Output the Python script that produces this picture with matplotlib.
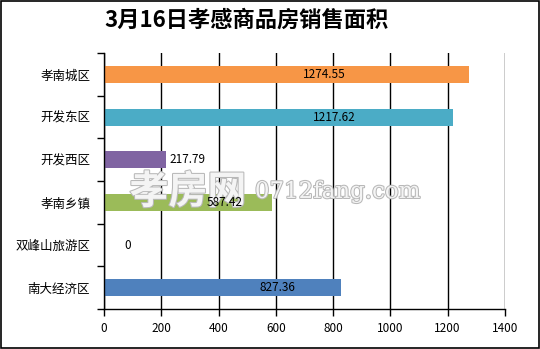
"""孝感商品房销售面积 - 3月16日."""
import matplotlib
matplotlib.use("Agg")
from matplotlib import pyplot as plt
from matplotlib import patheffects as pe
from matplotlib.patches import Rectangle

plt.rcParams["font.family"] = ["Noto Sans CJK SC", "DejaVu Sans"]

# data, bottom to top
areas = ["南大经济区", "双峰山旅游区", "孝南乡镇", "开发西区", "开发东区", "孝南城区"]
values = [827.36, 0, 587.42, 217.79, 1217.62, 1274.55]
colors = ["#4F81BD", "#C0504D", "#9BBB59", "#8064A2", "#4BACC6", "#F79646"]
# where each value label sits (data units) and how it is anchored
label_x = [604, 84, 423, 228, 805, 768]
label_ha = ["center", "center", "center", "left", "center", "center"]
x_ticks = list(range(0, 1401, 200))

fig = plt.figure(figsize=(5.4, 3.49), dpi=100)
ax = fig.add_axes([0.1926, 0.1146, 0.7424, 0.7334])

ax.barh(range(len(areas)), values, height=0.4, color=colors, zorder=2)

for i, (v, lx, ha) in enumerate(zip(values, label_x, label_ha)):
    ax.text(lx, i, f"{v:g}" if v == 0 else f"{v:.2f}", ha=ha, va="center",
            fontsize=8.5, color="black", zorder=4)

ax.set_xlim(0, 1400)
ax.set_ylim(-0.5, len(areas) - 0.5)
ax.set_xticks(x_ticks)
ax.set_xticklabels([str(t) for t in x_ticks], fontsize=8.5)
ax.set_yticks(range(len(areas)))
ax.set_yticklabels(areas, fontsize=9)
ax.set_yticks([i - 0.5 for i in range(len(areas) + 1)], minor=True)
ax.tick_params(axis="y", which="major", length=0, pad=10)
ax.tick_params(axis="y", which="minor", length=5, width=1, direction="out")
ax.tick_params(axis="x", length=5, width=1, direction="out", pad=4)
ax.grid(axis="x", color="black", linewidth=1, zorder=1)
ax.set_axisbelow(True)
for side in ("top", "right"):
    ax.spines[side].set_visible(False)
for side in ("left", "bottom"):
    ax.spines[side].set_linewidth(1)

fig.text(0.456, 0.943, "3月16日孝感商品房销售面积", ha="center", va="center",
         fontsize=16, fontweight="bold")

# watermark, under the value labels
wm = [pe.withStroke(linewidth=1.5, foreground="#b8b8b8")]
ax.text(0.24, 0.45, "孝房网", fontsize=28, fontweight="bold", color="#f4f4f4",
        transform=fig.transFigure, ha="left", va="center", path_effects=wm,
        zorder=3, clip_on=False)
ax.text(0.472, 0.45, "0712fang.com", fontsize=16.5, color="#f4f4f4",
        family=["DejaVu Serif"], transform=fig.transFigure, ha="left",
        va="center", path_effects=wm, zorder=3, clip_on=False)

fig.patches.append(Rectangle((0.001, 0.002), 0.997, 0.995, transform=fig.transFigure,
                             fill=False, edgecolor="black", linewidth=1.2))

fig.savefig("out.png", dpi=100)
